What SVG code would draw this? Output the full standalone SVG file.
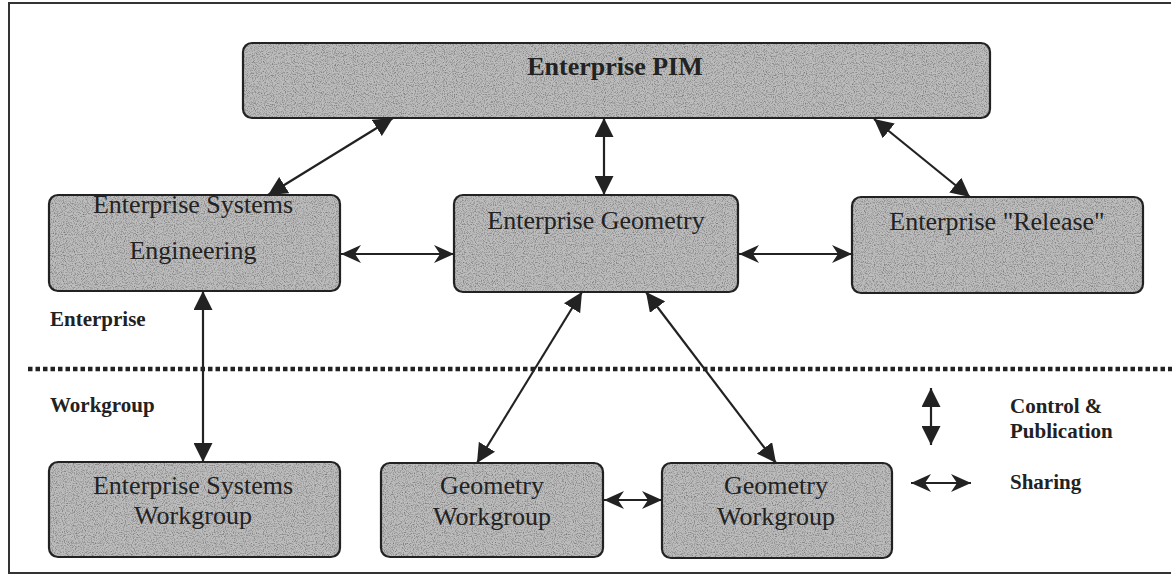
<svg xmlns="http://www.w3.org/2000/svg" width="1172" height="575" viewBox="0 0 1172 575">
  <style>
    .box { fill: #bdbdbd; stroke: #222; stroke-width: 2.2; }
    .grain { fill: #000; stroke: none; filter: url(#stipple); }
    .lbl { font-family: "Liberation Serif", "Times New Roman", serif; font-size: 26px; fill: #222; text-anchor: middle; }
    .bold { font-family: "Liberation Serif", "Times New Roman", serif; font-size: 21px; font-weight: bold; fill: #222; }
    .ctl { stroke: #222; stroke-width: 2.2; fill: none; marker-start: url(#tri); marker-end: url(#tri); }
    .shr { stroke: #222; stroke-width: 2.2; fill: none; marker-start: url(#stealth); marker-end: url(#stealth); }
  </style>
  <defs>
    <!-- light speckle laid over the box fills -->
    <filter id="stipple" x="0" y="0" width="100%" height="100%">
      <feTurbulence type="fractalNoise" baseFrequency="0.9" numOctaves="2" seed="3" result="n"/>
      <feColorMatrix in="n" type="matrix" values="0 0 0 0 0  0 0 0 0 0  0 0 0 0 0  0 0 0 0.9 -0.4" result="dots"/>
      <feComposite in="dots" in2="SourceAlpha" operator="in"/>
    </filter>
    <marker id="tri" viewBox="0 0 19 19" refX="19" refY="9.5" markerWidth="19" markerHeight="19" markerUnits="userSpaceOnUse" orient="auto-start-reverse">
      <path d="M0,0 L19,9.5 L0,19 z" fill="#222"/>
    </marker>
    <marker id="stealth" viewBox="0 0 20 18" refX="20" refY="9" markerWidth="20" markerHeight="18" markerUnits="userSpaceOnUse" orient="auto-start-reverse">
      <path d="M0,0 L20,9 L0,18 L6,9 z" fill="#222"/>
    </marker>
  </defs>

  <rect width="1172" height="575" fill="#fff"/>
  <!-- outer frame -->
  <path d="M1171,3 L9,3 L9,573 L1171,573" fill="none" stroke="#333" stroke-width="2"/>

  <!-- enterprise / workgroup boundary -->
  <line x1="28" y1="369" x2="1172" y2="369" stroke="#222" stroke-width="4.5" stroke-dasharray="4.5 3"/>

  <g id="connectors">
    <line class="ctl" x1="268" y1="195" x2="393" y2="118"/>
    <line class="ctl" x1="604" y1="118" x2="604" y2="195"/>
    <line class="ctl" x1="874" y1="119" x2="970" y2="197"/>
    <line class="ctl" x1="203" y1="291" x2="203" y2="462"/>
    <line class="ctl" x1="582" y1="292" x2="477" y2="463"/>
    <line class="ctl" x1="646" y1="292" x2="776" y2="463"/>
    <line class="shr" x1="341" y1="254" x2="454" y2="254"/>
    <line class="shr" x1="739" y1="254" x2="852" y2="254"/>
    <line class="shr" x1="604" y1="500" x2="662" y2="500"/>
  </g>

  <g id="enterprise-pim">
    <rect class="box" x="243" y="43" width="747" height="75" rx="9"/>
    <rect class="grain" x="244" y="44" width="745" height="73" rx="8"/>
    <text class="lbl" x="615" y="75" font-weight="bold">Enterprise PIM</text>
  </g>

  <g id="enterprise-systems-engineering">
    <rect class="box" x="49" y="195" width="291" height="96" rx="9"/>
    <rect class="grain" x="50" y="196" width="289" height="94" rx="8"/>
    <text class="lbl" x="193" y="213">Enterprise Systems</text>
    <text class="lbl" x="193" y="259">Engineering</text>
  </g>

  <g id="enterprise-geometry">
    <rect class="box" x="454" y="195" width="284" height="97" rx="9"/>
    <rect class="grain" x="455" y="196" width="282" height="95" rx="8"/>
    <text class="lbl" x="596" y="229">Enterprise Geometry</text>
  </g>

  <g id="enterprise-release">
    <rect class="box" x="852" y="197" width="291" height="96" rx="9"/>
    <rect class="grain" x="853" y="198" width="289" height="94" rx="8"/>
    <text class="lbl" x="997" y="230">Enterprise "Release"</text>
  </g>

  <g id="enterprise-systems-workgroup">
    <rect class="box" x="49" y="462" width="291" height="95" rx="9"/>
    <rect class="grain" x="50" y="463" width="289" height="93" rx="8"/>
    <text class="lbl" x="193" y="494">Enterprise Systems</text>
    <text class="lbl" x="193" y="524">Workgroup</text>
  </g>

  <g id="geometry-workgroup-1">
    <rect class="box" x="381" y="463" width="222" height="94" rx="9"/>
    <rect class="grain" x="382" y="464" width="220" height="92" rx="8"/>
    <text class="lbl" x="492" y="494">Geometry</text>
    <text class="lbl" x="492" y="525">Workgroup</text>
  </g>

  <g id="geometry-workgroup-2">
    <rect class="box" x="662" y="463" width="230" height="95" rx="9"/>
    <rect class="grain" x="663" y="464" width="228" height="93" rx="8"/>
    <text class="lbl" x="776" y="494">Geometry</text>
    <text class="lbl" x="776" y="525">Workgroup</text>
  </g>

  <g id="zone-labels">
    <text class="bold" x="50" y="326">Enterprise</text>
    <text class="bold" x="50" y="412">Workgroup</text>
  </g>

  <g id="legend">
    <line class="ctl" x1="931" y1="388" x2="931" y2="445"/>
    <text class="bold" x="1010" y="413">Control &amp;</text>
    <text class="bold" x="1010" y="438">Publication</text>
    <line class="shr" x1="911" y1="483" x2="971" y2="483"/>
    <text class="bold" x="1010" y="489">Sharing</text>
  </g>
</svg>
